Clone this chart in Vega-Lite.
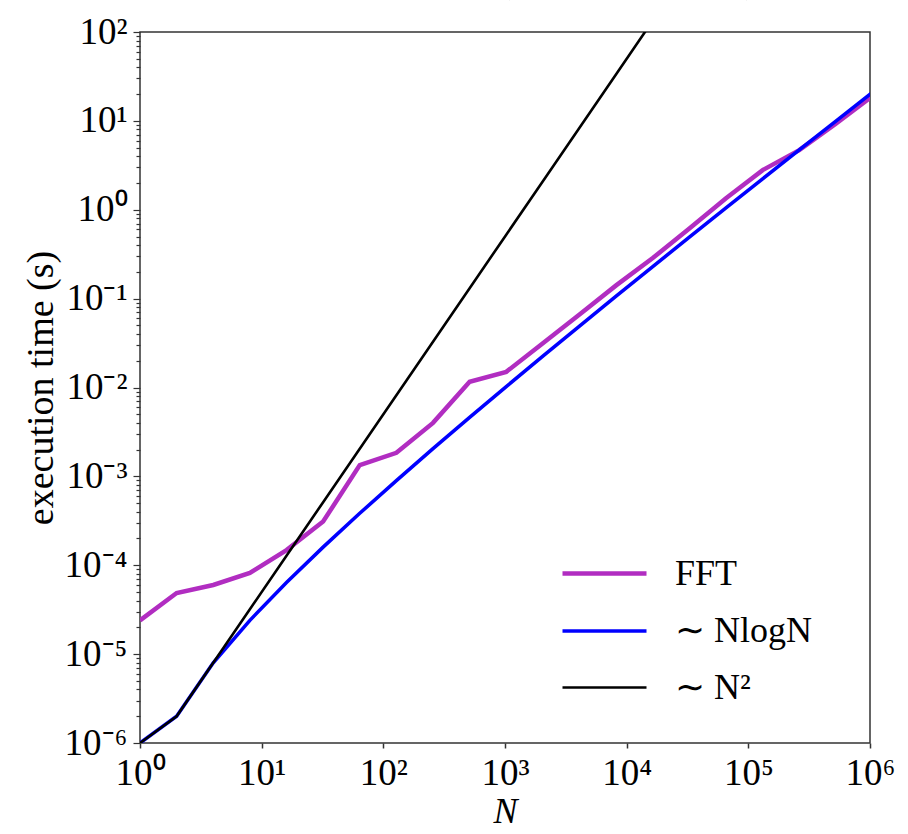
{
  "$schema": "https://vega.github.io/schema/vega-lite/v6.json",
  "width": 730,
  "height": 711,
  "autosize": {"type": "none"},
  "padding": {"left": 140, "top": 32, "right": 38, "bottom": 91},
  "background": "white",
  "title": {"text": "(N log N)", "font": "Liberation Serif", "fontSize": 72, "fontWeight": "normal", "color": "black", "anchor": "middle", "dx": 123, "offset": 0, "dy": -13},
  "config": {
    "view": {"stroke": "#333", "strokeWidth": 1.5},
    "font": "Liberation Serif"
  },
  "data": {"values": [
    {"N": 1, "t": 0.000024, "series": "FFT"},
    {"N": 2, "t": 0.0000487, "series": "FFT"},
    {"N": 4, "t": 0.00006, "series": "FFT"},
    {"N": 8, "t": 0.000082, "series": "FFT"},
    {"N": 16, "t": 0.000148, "series": "FFT"},
    {"N": 32, "t": 0.00031, "series": "FFT"},
    {"N": 64, "t": 0.00134, "series": "FFT"},
    {"N": 128, "t": 0.00184, "series": "FFT"},
    {"N": 256, "t": 0.004, "series": "FFT"},
    {"N": 512, "t": 0.0116, "series": "FFT"},
    {"N": 1024, "t": 0.015, "series": "FFT"},
    {"N": 2048, "t": 0.0315, "series": "FFT"},
    {"N": 4096, "t": 0.0664, "series": "FFT"},
    {"N": 8192, "t": 0.141, "series": "FFT"},
    {"N": 16384, "t": 0.286, "series": "FFT"},
    {"N": 32768, "t": 0.616, "series": "FFT"},
    {"N": 65536, "t": 1.35, "series": "FFT"},
    {"N": 131072, "t": 2.79, "series": "FFT"},
    {"N": 262144, "t": 4.68, "series": "FFT"},
    {"N": 524288, "t": 9.3, "series": "FFT"},
    {"N": 1048576, "t": 19.0, "series": "FFT"},
    {"N": 1, "t": 0.000001, "series": "∼ NlogN"},
    {"N": 2, "t": 0.000002, "series": "∼ NlogN"},
    {"N": 4, "t": 0.000008, "series": "∼ NlogN"},
    {"N": 8, "t": 0.000024, "series": "∼ NlogN"},
    {"N": 16, "t": 0.000064, "series": "∼ NlogN"},
    {"N": 32, "t": 0.00016, "series": "∼ NlogN"},
    {"N": 64, "t": 0.000384, "series": "∼ NlogN"},
    {"N": 128, "t": 0.000896, "series": "∼ NlogN"},
    {"N": 256, "t": 0.002048, "series": "∼ NlogN"},
    {"N": 512, "t": 0.004608, "series": "∼ NlogN"},
    {"N": 1024, "t": 0.01024, "series": "∼ NlogN"},
    {"N": 2048, "t": 0.022528, "series": "∼ NlogN"},
    {"N": 4096, "t": 0.049152, "series": "∼ NlogN"},
    {"N": 8192, "t": 0.106496, "series": "∼ NlogN"},
    {"N": 16384, "t": 0.229376, "series": "∼ NlogN"},
    {"N": 32768, "t": 0.49152, "series": "∼ NlogN"},
    {"N": 65536, "t": 1.048576, "series": "∼ NlogN"},
    {"N": 131072, "t": 2.228224, "series": "∼ NlogN"},
    {"N": 262144, "t": 4.718592, "series": "∼ NlogN"},
    {"N": 524288, "t": 9.961472, "series": "∼ NlogN"},
    {"N": 1048576, "t": 20.97152, "series": "∼ NlogN"},
    {"N": 1, "t": 0.000001, "series": "∼ N²"},
    {"N": 2, "t": 0.000002, "series": "∼ N²"},
    {"N": 4, "t": 0.000008, "series": "∼ N²"},
    {"N": 8, "t": 0.000032, "series": "∼ N²"},
    {"N": 16, "t": 0.000128, "series": "∼ N²"},
    {"N": 32, "t": 0.000512, "series": "∼ N²"},
    {"N": 64, "t": 0.002048, "series": "∼ N²"},
    {"N": 128, "t": 0.008192, "series": "∼ N²"},
    {"N": 256, "t": 0.032768, "series": "∼ N²"},
    {"N": 512, "t": 0.131072, "series": "∼ N²"},
    {"N": 1024, "t": 0.524288, "series": "∼ N²"},
    {"N": 2048, "t": 2.097152, "series": "∼ N²"},
    {"N": 4096, "t": 8.388608, "series": "∼ N²"},
    {"N": 8192, "t": 33.554432, "series": "∼ N²"},
    {"N": 16384, "t": 134.217728, "series": "∼ N²"}
  ]},
  "mark": {"type": "line", "clip": true, "strokeCap": "butt", "strokeJoin": "miter"},
  "encoding": {
    "x": {
      "field": "N", "type": "quantitative",
      "scale": {"type": "log", "domain": [1, 1000000], "nice": false},
      "axis": {
        "values": [1, 10, 100, 1000, 10000, 100000, 1000000],
        "labelExpr": "'10' + (round(log(datum.value)/LN10) < 0 ? '⁻' : '') + ['⁰','¹','²','³','⁴','⁵','⁶','⁷','⁸','⁹'][abs(round(log(datum.value)/LN10))]",
        "grid": false, "domain": false,
        "tickColor": "#333", "tickSize": 5, "tickWidth": 1.5,
        "labelFont": "Liberation Serif", "labelFontSize": 37, "labelColor": "black",
        "labelPadding": 7, "labelFlush": false, "labelOverlap": false,
        "title": "N", "titleFont": "Liberation Serif", "titleFontStyle": "italic", "titleFontWeight": "normal",
        "titleFontSize": 36, "titleColor": "black", "titlePadding": 3
      }
    },
    "y": {
      "field": "t", "type": "quantitative",
      "scale": {"type": "log", "domain": [0.000001, 100], "nice": false},
      "axis": {
        "values": [0.000001, 0.000002, 0.000003, 0.000004, 0.000005, 0.000006, 0.000007, 0.000008, 0.000009,
                   0.00001, 0.00002, 0.00003, 0.00004, 0.00005, 0.00006, 0.00007, 0.00008, 0.00009,
                   0.0001, 0.0002, 0.0003, 0.0004, 0.0005, 0.0006, 0.0007, 0.0008, 0.0009,
                   0.001, 0.002, 0.003, 0.004, 0.005, 0.006, 0.007, 0.008, 0.009,
                   0.01, 0.02, 0.03, 0.04, 0.05, 0.06, 0.07, 0.08, 0.09,
                   0.1, 0.2, 0.3, 0.4, 0.5, 0.6, 0.7, 0.8, 0.9,
                   1, 2, 3, 4, 5, 6, 7, 8, 9,
                   10, 20, 30, 40, 50, 60, 70, 80, 90, 100],
        "labelExpr": "abs(log(datum.value)/LN10 - round(log(datum.value)/LN10)) > 0.001 ? '' : '10' + (round(log(datum.value)/LN10) < 0 ? '⁻' : '') + ['⁰','¹','²','³','⁴','⁵','⁶','⁷','⁸','⁹'][abs(round(log(datum.value)/LN10))]",
        "grid": false, "domain": false,
        "tickColor": "#333", "tickWidth": 1.2,
        "tickSize": {"condition": {"test": "abs(log(datum.value)/LN10 - round(log(datum.value)/LN10)) > 0.001", "value": 4}, "value": 7},
        "labelFont": "Liberation Serif", "labelFontSize": 37, "labelColor": "black",
        "labelPadding": 6, "labelFlush": false, "labelOverlap": false, "labelBound": false,
        "title": "execution time (s)", "titleFont": "Liberation Serif", "titleFontWeight": "normal",
        "titleFontSize": 38, "titleColor": "black", "titlePadding": 4
      }
    },
    "color": {
      "field": "series", "type": "nominal",
      "scale": {"domain": ["FFT", "∼ NlogN", "∼ N²"], "range": ["#b12dc1", "#0000ff", "#000000"]},
      "legend": {
        "orient": "none", "legendX": 441, "legendY": 518, "title": null,
        "labelFont": "Liberation Serif", "labelFontSize": 36, "labelColor": "black",
        "symbolType": "M-2,0H2", "symbolSize": 1764, "labelOffset": 47, "rowPadding": 16
      }
    },
    "strokeWidth": {
      "field": "series", "type": "nominal",
      "scale": {"domain": ["FFT", "∼ NlogN", "∼ N²"], "range": [4.5, 2.6, 1.2]},
      "legend": {
        "orient": "none", "legendX": 441, "legendY": 518, "title": null,
        "labelFont": "Liberation Serif", "labelFontSize": 36, "labelColor": "black",
        "symbolType": "M-2,0H2", "symbolSize": 1764, "labelOffset": 47, "rowPadding": 16
      }
    }
  }
}
